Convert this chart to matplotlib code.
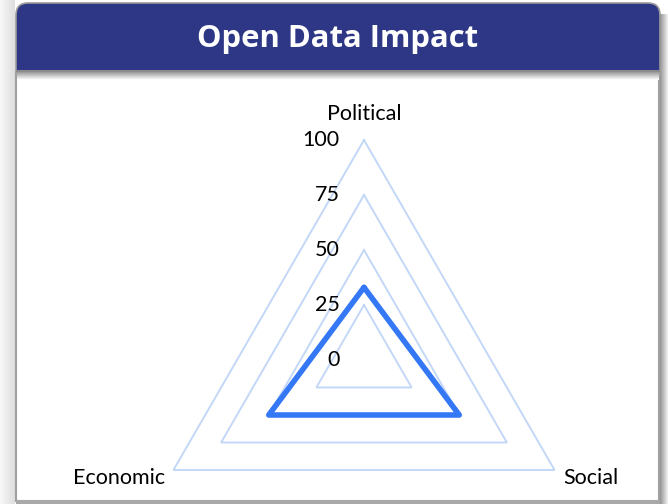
import numpy as np
import matplotlib.pyplot as plt
from matplotlib.patches import FancyBboxPatch, Rectangle

# chart data
categories = ['Political', 'Social', 'Economic']
values = [33, 50, 50]
ring_levels = [25, 50, 75, 100]
tick_labels = ['0', '25', '50', '75', '100']

W, H = 668, 504
fig = plt.figure(figsize=(W / 100, H / 100), dpi=100)
fig.patch.set_facecolor('white')

# background / frame drawn in pixel coords
bg = fig.add_axes([0, 0, 1, 1])
bg.set_xlim(0, W)
bg.set_ylim(H, 0)
bg.axis('off')

# faint gradient left of the frame and shadow on the right
for i in range(15):
    g = 0.97 - 0.10 * (i / 14)
    bg.add_patch(Rectangle((i, 0), 1, H, color=(g, g, g), lw=0))
for i in range(9):
    g = 0.60 + 0.38 * (i / 8)
    bg.add_patch(Rectangle((660 + i, 14), 1, H, color=(g, g, g), lw=0))

# header box (rounded top)
bg.add_patch(FancyBboxPatch((16, 3), 644, 110, boxstyle='round,pad=0,rounding_size=12',
                            fc='#2d3785', ec='#9a9a9a', lw=1.2, zorder=2))
# white panel
bg.add_patch(Rectangle((16, 72), 643, 429, fc='white', ec='#a0a0a0', lw=1.5, zorder=3))
bg.add_patch(Rectangle((16, 500), 644, 4, fc='#a8a8a8', lw=0, zorder=4))
# shadow under header
for i in range(8):
    g = 0.62 + 0.37 * (i / 7)
    bg.add_patch(Rectangle((17, 72 + i), 642, 1, color=(g, g, g), lw=0, zorder=4))
bg.add_patch(Rectangle((16, 70), 644, 2, color='#8c8c8c', lw=0, zorder=4))

bg.text(338, 39, 'Open Data Impact', color='white', fontsize=22.3, fontweight='bold',
        family='Open Sans', ha='center', va='center', zorder=5)

# radar axes: center at pixel (364, 360), 2.2 px per unit
s = 2.2
cx, cy = 364, 360
xl, yl = (-140, 140), (-65, 125)
ax = fig.add_axes([(cx + s * xl[0]) / W, (H - cy + s * yl[0]) / H,
                   s * (xl[1] - xl[0]) / W, s * (yl[1] - yl[0]) / H])
ax.set_xlim(*xl)
ax.set_ylim(*yl)
ax.axis('off')
ax.set_zorder(5)

angles = np.deg2rad([90, -30, 210])


def poly(vals):
    vals = np.asarray(vals, dtype=float)
    x = vals * np.cos(angles)
    y = vals * np.sin(angles)
    return np.append(x, x[0]), np.append(y, y[0])


for r in ring_levels:
    x, y = poly([r] * 3)
    ax.plot(x, y, color='#c3d7f7', lw=1.4, solid_joinstyle='miter')

x, y = poly(values)
ax.plot(x, y, color='#3478f6', lw=4.0, solid_joinstyle='round', solid_capstyle='round')

font = 'Lato'
fs = 15.5
for lab, lvl in zip(tick_labels, [0] + ring_levels):
    ax.text(-11, lvl, lab, ha='right', va='center', fontsize=fs, family=font)

ax.text(0, 112, categories[0], ha='center', va='center', fontsize=fs, family=font)
ax.text(100 * np.cos(angles[1]) + 4, 100 * np.sin(angles[1]) - 3.5, categories[1],
        ha='left', va='center', fontsize=fs, family=font)
ax.text(100 * np.cos(angles[2]) - 4, 100 * np.sin(angles[2]) - 3.5, categories[2],
        ha='right', va='center', fontsize=fs, family=font)

fig.savefig('out.png', dpi=100)
